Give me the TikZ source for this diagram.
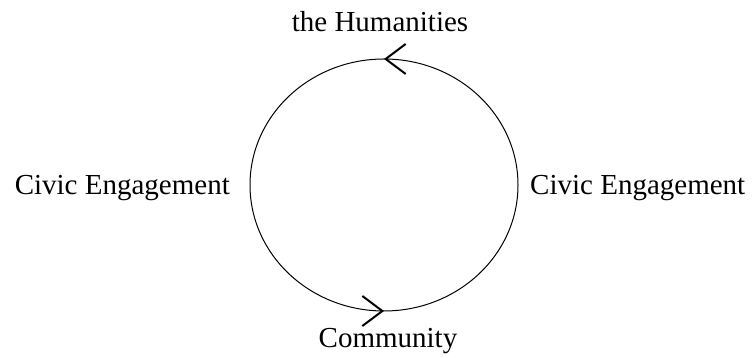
\documentclass[tikz,border=0pt]{standalone}
\usepackage{fontspec}
\setmainfont{Liberation Serif}
\usetikzlibrary{arrows.meta,decorations.markings}
\tikzset{
  label/.style={inner sep=0pt, font=\fontsize{29}{34}\selectfont},
  barb/.style={decoration={markings,
    mark=at position 0.25 with {\arrow[line width=2pt]{Straight Barb[length=20pt,width=30pt]}},
    mark=at position 0.75 with {\arrow[line width=2pt]{Straight Barb[length=20pt,width=30pt]}}},
    postaction={decorate}}
}
\begin{document}
\begin{tikzpicture}[x=1pt, y=1pt, line join=round, line cap=round]
	\useasboundingbox (0,0) rectangle (753,358);
	\coordinate (hub) at (384,173);
	\draw[line width=1pt, barb] (hub) ++(134,0) arc[start angle=0, end angle=360, x radius=134, y radius=126];
	\node[label, anchor=base] (hum) at (380,326) {the Humanities};
	\node[label, anchor=base] (com) at (388,10) {Community};
	\node[label, anchor=base east] (civl) at (230,163) {Civic Engagement};
	\node[label, anchor=base west] (civr) at (530,163) {Civic Engagement};
\end{tikzpicture}
\end{document}
